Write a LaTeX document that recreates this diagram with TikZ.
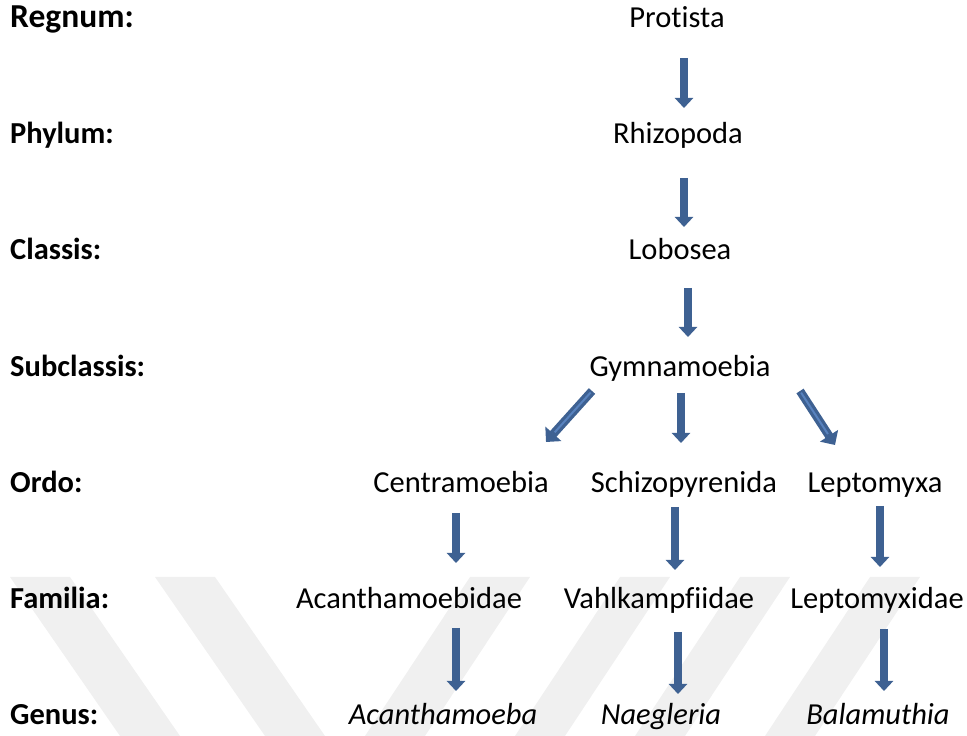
\documentclass[tikz,border=0pt]{standalone}
\usepackage{fontspec}
\setmainfont{Carlito}[Ligatures={NoCommon}]
\usetikzlibrary{arrows.meta}
\definecolor{arrblue}{RGB}{62,97,146}
\definecolor{arrlight}{RGB}{88,130,190}
\definecolor{wm}{RGB}{240,240,240}
\begin{document}
\begin{tikzpicture}[x=1pt,y=1pt,
  lbl/.style={anchor=base west, font=\fontsize{30.5}{36}\selectfont\bfseries, inner sep=0pt},
  biglbl/.style={anchor=base west, font=\fontsize{33.5}{40}\selectfont\bfseries, inner sep=0pt},
  tx/.style={anchor=base, font=\fontsize{30.5}{36}\selectfont, inner sep=0pt},
  itx/.style={anchor=base, font=\fontsize{30.5}{36}\selectfont\itshape, inner sep=0pt},
  arr/.style={draw=arrblue, line width=7.5pt, -{Triangle[width=18pt,length=10pt]}},
  darr/.style={draw=arrblue, line width=8.5pt, -{Triangle[width=21pt,length=11pt]}},
  hl/.style={draw=arrlight, line width=2pt, shorten >=13pt, shorten <=2pt},
  band/.style={fill=wm, draw=none}
]
\useasboundingbox (0,0) rectangle (967,736);
% watermark
\fill[band] (10,159) -- (70,159) -- (180,0) -- (120,0) -- cycle;
\fill[band] (155,159) -- (215,159) -- (325,0) -- (265,0) -- cycle;
\fill[band] (470,159) -- (530,159) -- (425,0) -- (365,0) -- cycle;
\fill[band] (620,159) -- (670,159) -- (565,0) -- (515,0) -- cycle;
\fill[band] (740,159) -- (790,159) -- (685,0) -- (635,0) -- cycle;
\fill[band] (870,159) -- (920,159) -- (815,0) -- (765,0) -- cycle;
% rank labels
\node[biglbl] (regnum) at (10,708) {Regnum:};
\node[lbl] (phylum) at (10,592) {Phylum:};
\node[lbl] (classis) at (10,476) {Classis:};
\node[lbl] (subclassis) at (10,359) {Subclassis:};
\node[lbl] (ordo) at (10,243) {Ordo:};
\node[lbl] (familia) at (10,127) {Familia:};
\node[lbl] (genus) at (10,11) {Genus:};
% taxa
\node[tx] (protista) at (677,708) {Protista};
\node[tx] (rhizopoda) at (678,592) {Rhizopoda};
\node[tx] (lobosea) at (680,476) {Lobosea};
\node[tx] (gymn) at (680,359) {Gymnamoebia};
\node[tx] (centra) at (461,243) {Centramoebia};
\node[tx] (schizo) at (684,243) {Schizopyrenida};
\node[tx] (leptomyxa) at (875,243) {Leptomyxa};
\node[tx] (acanthidae) at (409,127) {Acanthamoebidae};
\node[tx] (vahl) at (659,127) {Vahlkampfiidae};
\node[tx] (leptidae) at (877,127) {Leptomyxidae};
\node[itx] (acanth) at (443,11) {Acanthamoeba};
\node[itx] (naeg) at (661,11) {Naegleria};
\node[itx] (balam) at (878,11) {Balamuthia};
% arrows
\draw[arr] ([shift={(7,-30)}]protista.base) -- ([shift={(6,36)}]rhizopoda.base);
\draw[arr] ([shift={(6,-34)}]rhizopoda.base) -- ([shift={(4,33)}]lobosea.base);
\draw[arr] ([shift={(8,-28)}]lobosea.base) -- ([shift={(8,40)}]gymn.base);
\draw[darr] ([shift={(-88,-14)}]gymn.base) -- ([shift={(85,51)}]centra.base);
\draw[hl] ([shift={(-88,-14)}]gymn.base) -- ([shift={(85,51)}]centra.base);
\draw[arr] ([shift={(1,-16)}]gymn.base) -- ([shift={(-3,50)}]schizo.base);
\draw[darr] ([shift={(120,-14)}]gymn.base) -- ([shift={(-40,48)}]leptomyxa.base);
\draw[hl] ([shift={(120,-14)}]gymn.base) -- ([shift={(-40,48)}]leptomyxa.base);
\draw[arr] ([shift={(-5,-20)}]centra.base) -- ([shift={(47,46)}]acanthidae.base);
\draw[arr] ([shift={(-9,-14)}]schizo.base) -- ([shift={(16,39)}]vahl.base);
\draw[arr] ([shift={(5,-13)}]leptomyxa.base) -- ([shift={(3,42)}]leptidae.base);
\draw[arr] ([shift={(47,-19)}]acanthidae.base) -- ([shift={(13,34)}]acanth.base);
\draw[arr] ([shift={(19,-23)}]vahl.base) -- ([shift={(17,31)}]naeg.base);
\draw[arr] ([shift={(7,-20)}]leptidae.base) -- ([shift={(6,34)}]balam.base);
\end{tikzpicture}
\end{document}
